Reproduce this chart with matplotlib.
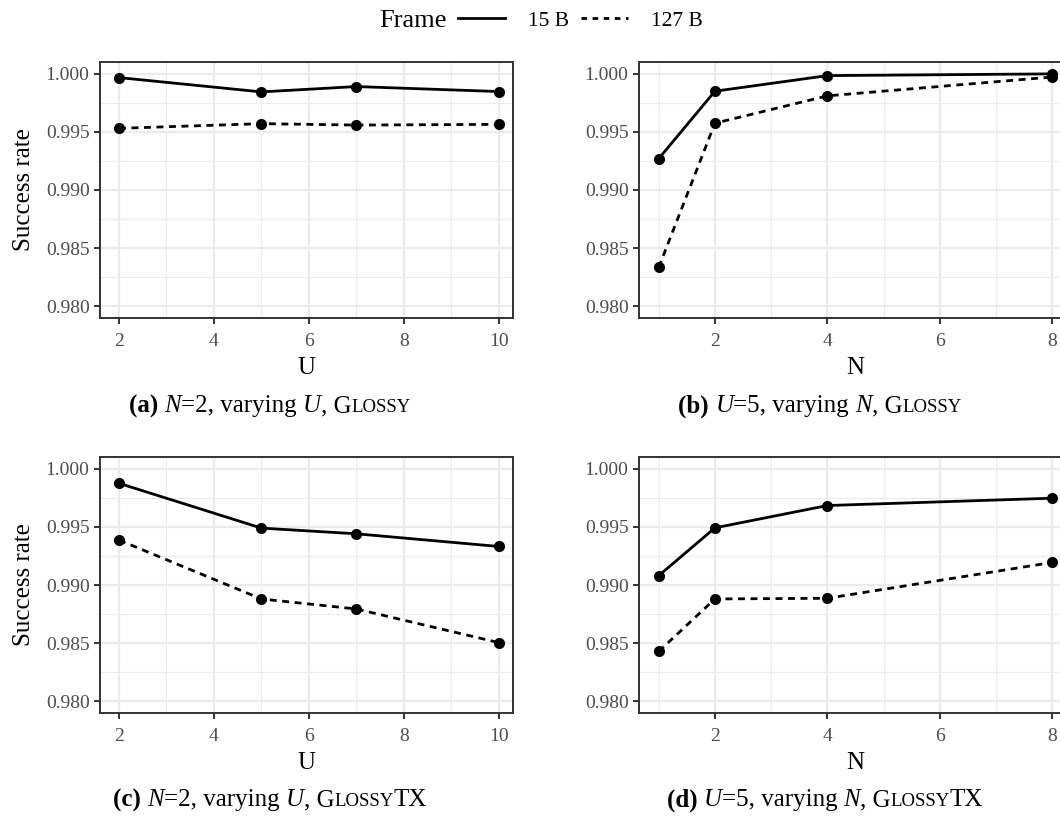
import matplotlib
matplotlib.use("Agg")
import matplotlib.pyplot as plt
from matplotlib.lines import Line2D
from matplotlib.offsetbox import TextArea, HPacker, AnchoredOffsetbox
from matplotlib.ticker import MultipleLocator

# ---- data ----
u_values = [2, 5, 7, 10]
n_values = [1, 2, 4, 8]

glossy_u_15 = [0.99966, 0.99843, 0.99889, 0.99846]
glossy_u_127 = [0.99530, 0.99570, 0.99558, 0.99564]

glossy_n_15 = [0.99269, 0.99849, 0.99983, 0.99998]
glossy_n_127 = [0.98334, 0.99574, 0.99809, 0.99971]

tx_u_15 = [0.99874, 0.99489, 0.99440, 0.99331]
tx_u_127 = [0.99386, 0.98880, 0.98794, 0.98505]

tx_n_15 = [0.99080, 0.99491, 0.99683, 0.99746]
tx_n_127 = [0.98429, 0.98880, 0.98886, 0.99194]

frame_labels = ["15 B", "127 B"]

SERIF = "Liberation Serif"
W, H = 1060, 819
fig = plt.figure(figsize=(W / 100, H / 100), dpi=100)


def px_axes(left, top, right, bottom):
    return fig.add_axes([left / W, 1 - bottom / H, (right - left) / W, (bottom - top) / H])


def style(ax, xlim, xmajor, ylabel, xlabel):
    ax.set_xlim(*xlim)
    ax.set_ylim(0.979, 1.001)
    ax.xaxis.set_major_locator(MultipleLocator(xmajor))
    ax.xaxis.set_minor_locator(MultipleLocator(xmajor / 2))
    ax.yaxis.set_major_locator(MultipleLocator(0.005))
    ax.yaxis.set_minor_locator(MultipleLocator(0.0025))
    ax.yaxis.set_major_formatter(matplotlib.ticker.FormatStrFormatter("%.3f"))
    ax.grid(which="major", color="#EBEBEB", lw=1.6, zorder=0)
    ax.grid(which="minor", color="#EBEBEB", lw=0.8, zorder=0)
    ax.set_axisbelow(True)
    for s in ax.spines.values():
        s.set_color("#333333")
        s.set_linewidth(1.4)
    ax.tick_params(which="major", direction="out", length=4.5, width=1.4,
                   color="#333333", labelcolor="#4D4D4D", labelsize=14)
    ax.tick_params(axis="x", which="major", pad=6)
    ax.tick_params(axis="y", which="major", pad=3)
    ax.tick_params(which="minor", length=0)
    for lab in ax.get_xticklabels() + ax.get_yticklabels():
        lab.set_fontfamily(SERIF)
    ax.set_xlabel(xlabel, fontsize=18, family=SERIF, labelpad=5)
    if ylabel:
        ax.set_ylabel("Success rate", fontsize=18, family=SERIF, labelpad=8)


def draw(ax, x, y15, y127):
    ax.plot(x, y15, color="black", lw=2.0, marker="o", ms=7, zorder=3)
    ax.plot(x, y127, color="black", lw=2.0, ls=(0, (2.5, 2.0)), marker="o", ms=7, zorder=3)


ax_a = px_axes(100, 62, 513, 318)
draw(ax_a, u_values, glossy_u_15, glossy_u_127)
style(ax_a, (1.6, 10.3), 2, True, "U")

ax_b = px_axes(639, 62, 1072, 318)
draw(ax_b, n_values, glossy_n_15, glossy_n_127)
style(ax_b, (0.65, 8.35), 2, False, "N")

ax_c = px_axes(100, 457, 513, 713)
draw(ax_c, u_values, tx_u_15, tx_u_127)
style(ax_c, (1.6, 10.3), 2, True, "U")

ax_d = px_axes(639, 457, 1072, 713)
draw(ax_d, n_values, tx_n_15, tx_n_127)
style(ax_d, (0.65, 8.35), 2, False, "N")


# ---- sub-captions with fake small caps ----
def caption(letter, a_var, a_val, v_var, tail_caps, x, y):
    fs, sc = 18, 13.5
    base = dict(family=SERIF, fontsize=fs, color="black")
    parts = [
        (f"({letter}) ", dict(base, weight="bold")),
        (a_var, dict(base, style="italic")),
        (f"={a_val}, varying ", base),
        (v_var, dict(base, style="italic")),
        (", G", base),
        ("LOSSY", dict(base, fontsize=sc)),
    ]
    if tail_caps:
        parts.append((tail_caps, base))
    boxes = [TextArea(t, textprops=p) for t, p in parts]
    pack = HPacker(children=boxes, align="baseline", pad=0, sep=0)
    ab = AnchoredOffsetbox(loc="center", child=pack, pad=0, frameon=False,
                           bbox_to_anchor=(x / W, 1 - y / H),
                           bbox_transform=fig.transFigure, borderpad=0)
    fig.add_artist(ab)


caption("a", "N", 2, "U", "", 270, 406)
caption("b", "U", 5, "N", "", 820, 406)
caption("c", "N", 2, "U", "TX", 270, 800)
caption("d", "U", 5, "N", "TX", 825, 800)

# ---- legend on top ----
fig.text(447 / W, 1 - 21 / H, "Frame", family=SERIF, fontsize=19,
         ha="right", va="center")
handles = [Line2D([], [], color="black", lw=2.0),
           Line2D([], [], color="black", lw=2.0, ls=(0, (2.0, 2.0)))]
fig.legend(handles, frame_labels, loc="center left", bbox_to_anchor=(458 / W, 1 - 21 / H),
           ncol=2, frameon=False, prop=dict(family=SERIF, size=15.5),
           handlelength=2.2, handletextpad=1.05, columnspacing=0.55,
           borderpad=0, borderaxespad=0)

fig.savefig("out.png", dpi=100)
